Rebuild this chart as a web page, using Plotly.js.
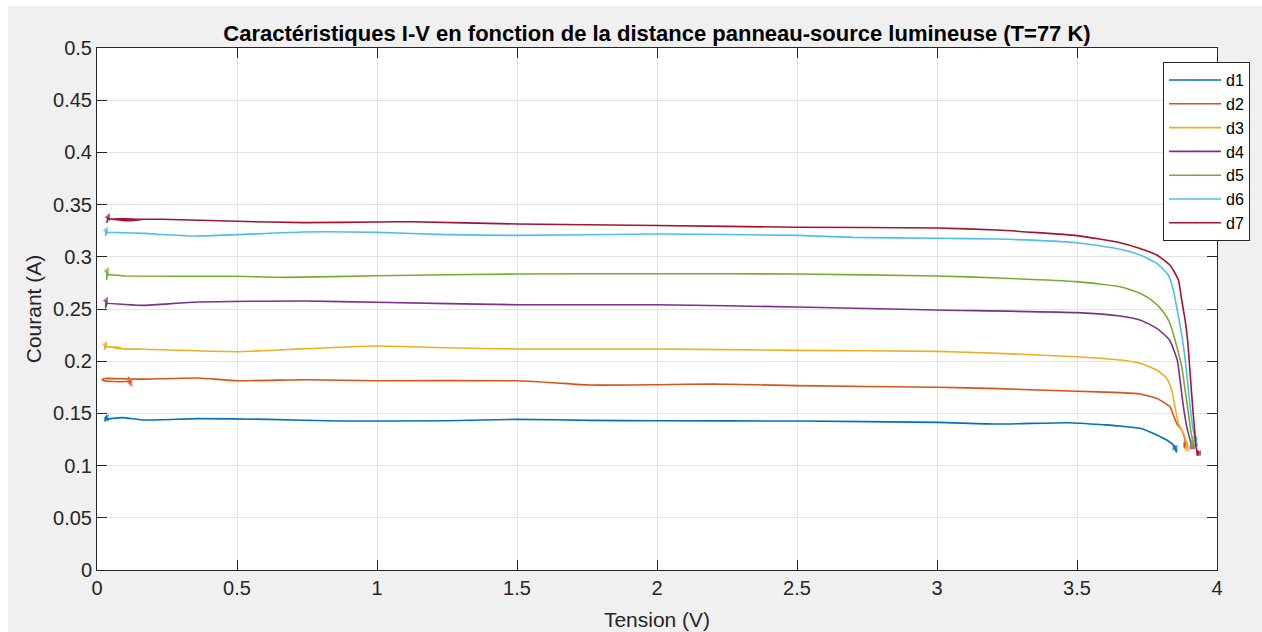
<!DOCTYPE html>
<html>
<head>
<meta charset="utf-8">
<script src="https://cdn.plot.ly/plotly-3.0.1.min.js"></script>
<style>
  html, body { margin: 0; padding: 0; background: #f0f0f0; }
  #chart { width: 1262px; height: 632px; }
</style>
</head>
<body>
<div id="chart"></div>
<script>
// Series names
const seriesNames = ["d1", "d2", "d3", "d4", "d5", "d6", "d7"];

// d1
const d1V = [0.035,0.028,0.033,0.03,0.05,0.09,0.17,0.36,0.61,0.87,1.25,1.5,1.76,2.0,2.5,3.0,3.22,3.47,3.6,3.654,3.725,3.785,3.82,3.844,3.852,3.855,3.85];
const d1I = [0.1455,0.1425,0.1475,0.1443,0.145,0.146,0.1437,0.145,0.1443,0.1427,0.143,0.1443,0.1433,0.143,0.1427,0.1414,0.1398,0.1411,0.139,0.1379,0.1357,0.1293,0.1245,0.1197,0.116,0.113,0.117];

// d2
const d2V = [0.12,0.113,0.117,0.1,0.06,0.025,0.018,0.03,0.08,0.15,0.36,0.5,0.74,1.0,1.5,1.63,1.76,2.0,2.2,2.5,3.0,3.22,3.5,3.654,3.725,3.785,3.832,3.844,3.856,3.874,3.886,3.884,3.888];
const d2I = [0.179,0.1845,0.181,0.1805,0.1805,0.1812,0.1825,0.1835,0.1832,0.1828,0.1839,0.1813,0.1823,0.1813,0.1813,0.1794,0.1772,0.1775,0.1782,0.1766,0.175,0.1737,0.1712,0.1699,0.1686,0.1644,0.1564,0.1485,0.1405,0.134,0.1245,0.117,0.12];

// d3
const d3V = [0.03,0.027,0.033,0.03,0.085,0.06,0.1,0.17,0.5,0.75,1.0,1.25,1.5,2.0,2.5,3.0,3.22,3.5,3.654,3.725,3.785,3.82,3.838,3.85,3.862,3.88,3.889,3.892,3.89,3.894];
const d3I = [0.216,0.2115,0.2145,0.2139,0.2135,0.2127,0.2118,0.2114,0.2091,0.212,0.2145,0.2129,0.2117,0.2117,0.2104,0.2094,0.2075,0.2043,0.2011,0.198,0.1916,0.1836,0.1724,0.1564,0.1405,0.131,0.1245,0.117,0.1195,0.116];

// d4
const d4V = [0.033,0.03,0.035,0.032,0.09,0.166,0.36,0.74,1.0,1.5,2.0,2.5,3.0,3.5,3.654,3.725,3.785,3.83,3.858,3.868,3.88,3.892,3.904,3.91,3.907,3.912];
const d4I = [0.258,0.251,0.2555,0.2554,0.2545,0.2535,0.2567,0.2577,0.2564,0.2541,0.2541,0.2519,0.249,0.2465,0.2433,0.2395,0.2315,0.2205,0.2011,0.182,0.1564,0.1373,0.1245,0.119,0.1215,0.118];

// d5
const d5V = [0.036,0.034,0.038,0.036,0.06,0.103,0.5,0.677,1.0,1.5,2.0,2.5,3.0,3.22,3.5,3.654,3.725,3.773,3.808,3.832,3.85,3.874,3.886,3.898,3.906,3.912,3.91,3.915];
const d5I = [0.2865,0.278,0.2845,0.2832,0.2825,0.2816,0.2813,0.2803,0.2819,0.2835,0.2838,0.2835,0.2816,0.2797,0.2762,0.2714,0.265,0.257,0.2474,0.2363,0.2203,0.1948,0.1724,0.1501,0.134,0.1245,0.118,0.122];

// d6
const d6V = [0.033,0.03,0.036,0.033,0.08,0.166,0.345,0.5,0.74,1.0,1.25,1.5,2.0,2.5,2.7,3.0,3.215,3.5,3.654,3.725,3.785,3.826,3.844,3.858,3.877,3.892,3.904,3.915,3.925,3.93,3.922];
const d6I = [0.3255,0.3205,0.324,0.3234,0.3232,0.3224,0.3199,0.3212,0.3238,0.3234,0.3212,0.3205,0.3218,0.3205,0.3186,0.3177,0.317,0.3135,0.3072,0.3017,0.2937,0.2826,0.2682,0.249,0.2203,0.1884,0.1564,0.134,0.124,0.119,0.126];

// d7
const d7V = [0.04,0.035,0.04,0.1,0.16,0.1,0.05,0.12,0.23,0.5,0.74,1.0,1.12,1.5,2.0,2.5,3.0,3.215,3.5,3.654,3.725,3.785,3.832,3.862,3.874,3.886,3.895,3.904,3.913,3.921,3.925,3.932,3.928,3.934];
const d7I = [0.338,0.333,0.336,0.3345,0.3355,0.3365,0.3362,0.336,0.336,0.334,0.3327,0.3334,0.3336,0.3314,0.330,0.3283,0.3276,0.3256,0.3203,0.3135,0.308,0.3017,0.2921,0.2778,0.2586,0.2395,0.2203,0.1884,0.1564,0.131,0.118,0.11,0.115,0.112];

// Tick labels
const xTicks = [0, 0.5, 1, 1.5, 2, 2.5, 3, 3.5, 4];
const xTickLabels = ["0", "0.5", "1", "1.5", "2", "2.5", "3", "3.5", "4"];
const yTicks = [0, 0.05, 0.1, 0.15, 0.2, 0.25, 0.3, 0.35, 0.4, 0.45, 0.5];
const yTickLabels = ["0", "0.05", "0.1", "0.15", "0.2", "0.25", "0.3", "0.35", "0.4", "0.45", "0.5"];

const colors = ["#0072BD", "#D95319", "#EDB120", "#7E2F8E", "#77AC30", "#4DBEEE", "#A2142F"];
const Vs = [d1V, d2V, d3V, d4V, d5V, d6V, d7V];
const Is = [d1I, d2I, d3I, d4I, d5I, d6I, d7I];

const font = "Liberation Sans, Arial, Helvetica, sans-serif";

const traces = seriesNames.map((n, k) => {
  const len = Vs[k].length;
  const sizes = Vs[k].map((_, i) => (i === 0 ? 7 : (i === len - 1 ? 5 : 0)));
  const symbols = Vs[k].map((_, i) => (i === 0 ? "triangle-left" : "square"));
  return {
    type: "scatter",
    mode: "lines+markers",
    name: n,
    x: Vs[k],
    y: Is[k],
    line: { color: colors[k], width: 1.6, shape: "spline", smoothing: 0.5 },
    marker: { color: colors[k], size: sizes, symbol: symbols, line: { width: 0 } },
  };
});

const axisCommon = {
  showline: true,
  linecolor: "#262626",
  linewidth: 1,
  mirror: "ticks",
  ticks: "inside",
  ticklen: 10,
  tickwidth: 1,
  tickcolor: "#262626",
  showgrid: true,
  gridcolor: "#e3e3e3",
  gridwidth: 1,
  zeroline: false,
  tickfont: { family: font, size: 20, color: "#262626" },
};

const layout = {
  width: 1262,
  height: 632,
  paper_bgcolor: "#f0f0f0",
  plot_bgcolor: "#ffffff",
  margin: { l: 97, r: 45, t: 48, b: 62 },
  title: {
    text: "<b>Caractéristiques I-V en fonction de la distance panneau-source lumineuse (T=77 K)</b>",
    font: { family: font, size: 22, color: "#000000" },
    x: 0.5, xref: "paper", xanchor: "center",
    y: 1, yref: "paper", yanchor: "bottom",
    pad: { b: 7 },
  },
  xaxis: Object.assign({}, axisCommon, {
    range: [0, 4],
    tickvals: xTicks,
    ticktext: xTickLabels,
    title: { text: "Tension (V)", font: { family: font, size: 21, color: "#262626" }, standoff: 14 },
  }),
  yaxis: Object.assign({}, axisCommon, {
    range: [0, 0.5],
    tickvals: yTicks,
    ticktext: yTickLabels,
    title: { text: "Courant (A)", font: { family: font, size: 21, color: "#262626" }, standoff: 5 },
  }),
  showlegend: true,
  legend: {
    x: 1.0295, xanchor: "right", xref: "paper",
    y: 0.973, yanchor: "top", yref: "paper",
    bgcolor: "#ffffff",
    bordercolor: "#262626",
    borderwidth: 1,
    font: { family: font, size: 16, color: "#000000" },
    tracegroupgap: 0,
    itemwidth: 52,
  },
  shapes: [
    { type: "rect", xref: "paper", yref: "paper", x0: -0.0866, x1: -0.0795, y0: -0.12, y1: 1.093,
      fillcolor: "#ffffff", line: { width: 0 }, layer: "above" },
    { type: "rect", xref: "paper", yref: "paper", x0: -0.0866, x1: 1.041, y0: 1.0805, y1: 1.093,
      fillcolor: "#ffffff", line: { width: 0 }, layer: "above" },
  ],
};

Plotly.newPlot("chart", traces, layout, { displayModeBar: false, staticPlot: true });
</script>
</body>
</html>
